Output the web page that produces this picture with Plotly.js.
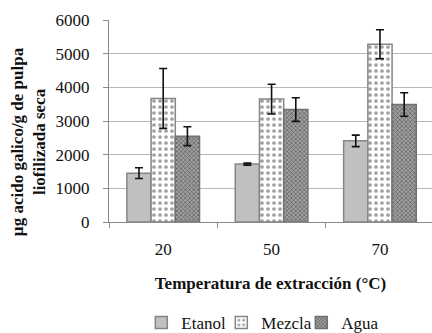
<!DOCTYPE html>
<html><head><meta charset="utf-8">
<script src="https://cdn.plot.ly/plotly-3.0.1.min.js"></script>
<style>html,body{margin:0;padding:0;background:#fff}#c{width:432px;height:333px}</style>
</head><body><div id="c"></div>
<script>
const categories = ['20', '50', '70'];
const etanol = [1450, 1720, 2410];
const etanolErr = [160, 30, 170];
const mezcla = [3670, 3650, 5280];
const mezclaErr = [890, 440, 430];
const agua = [2550, 3340, 3490];
const aguaErr = [280, 350, 350];
const seriesNames = ['Etanol', 'Mezcla', 'Agua'];
const yTitle = 'µg acido galico/g de pulpa<br>liofilizada seca';
const xTitle = 'Temperatura de extracción (°C)';

const FONT = 'Liberation Serif';
const FS = 17;
const errStyle = {type: 'data', visible: true, color: '#111', thickness: 1.6, width: 4};

const traces = [
  {type: 'bar', name: seriesNames[0], x: categories, y: etanol,
   error_y: Object.assign({array: etanolErr}, errStyle),
   marker: {color: '#c0c0c0', line: {color: '#858585', width: 1.5}}},
  {type: 'bar', name: seriesNames[1], x: categories, y: mezcla,
   error_y: Object.assign({array: mezclaErr}, errStyle),
   marker: {color: '#ffffff', line: {color: '#858585', width: 1.5},
            pattern: {shape: '.', fgcolor: '#a0a0a0', bgcolor: '#ffffff', size: 6, solidity: 0.3}}},
  {type: 'bar', name: seriesNames[2], x: categories, y: agua,
   error_y: Object.assign({array: aguaErr}, errStyle),
   marker: {color: '#8f8f8f', line: {color: '#707070', width: 1.5},
            pattern: {shape: 'x', fgcolor: '#5a5a5a', bgcolor: '#a0a0a0', size: 3, solidity: 0.4}}}
];

const layout = {
  width: 432, height: 333,
  margin: {l: 109, r: 0, t: 20, b: 111, pad: 0, autoexpand: false},
  paper_bgcolor: '#fff', plot_bgcolor: '#fff',
  font: {family: FONT, size: FS, color: '#111'},
  barmode: 'group', bargap: 0.33, bargroupgap: 0,
  showlegend: true,
  legend: {orientation: 'h', x: 0.1, xanchor: 'left', y: -0.5, yanchor: 'middle',
           font: {family: FONT, size: FS, color: '#111'}, itemwidth: 30, tracegroupgap: 0,
           entrywidth: 35, entrywidthmode: 'pixels'},
  xaxis: {type: 'category', range: [-0.5, 2.48], showline: true, linecolor: '#8a8a8a', linewidth: 1,
          ticks: 'outside', tickson: 'boundaries', ticklen: 5, tickcolor: '#8a8a8a', ticklabelstandoff: 12,
          showgrid: false, tickfont: {family: FONT, size: FS, color: '#111'},
          title: {text: '<b>' + xTitle + '</b>', standoff: 18, font: {family: FONT, size: FS, color: '#111'}}},
  yaxis: {range: [0, 6000], dtick: 1000, showline: true, linecolor: '#8a8a8a', linewidth: 1,
          ticks: 'outside', ticklen: 5, tickcolor: '#8a8a8a', gridcolor: '#b8b8b8', gridwidth: 1,
          ticklabelstandoff: 10,
          zeroline: false, tickfont: {family: FONT, size: FS, color: '#111'}},
  annotations: [{text: '<b>' + yTitle + '</b>', xref: 'paper', yref: 'paper',
                 x: -0.251, y: 0.40, xanchor: 'center', yanchor: 'middle', textangle: -90, showarrow: false,
                 font: {family: FONT, size: FS, color: '#111'}}]
};

Plotly.newPlot('c', traces, layout, {displayModeBar: false, staticPlot: true});
</script></body></html>
